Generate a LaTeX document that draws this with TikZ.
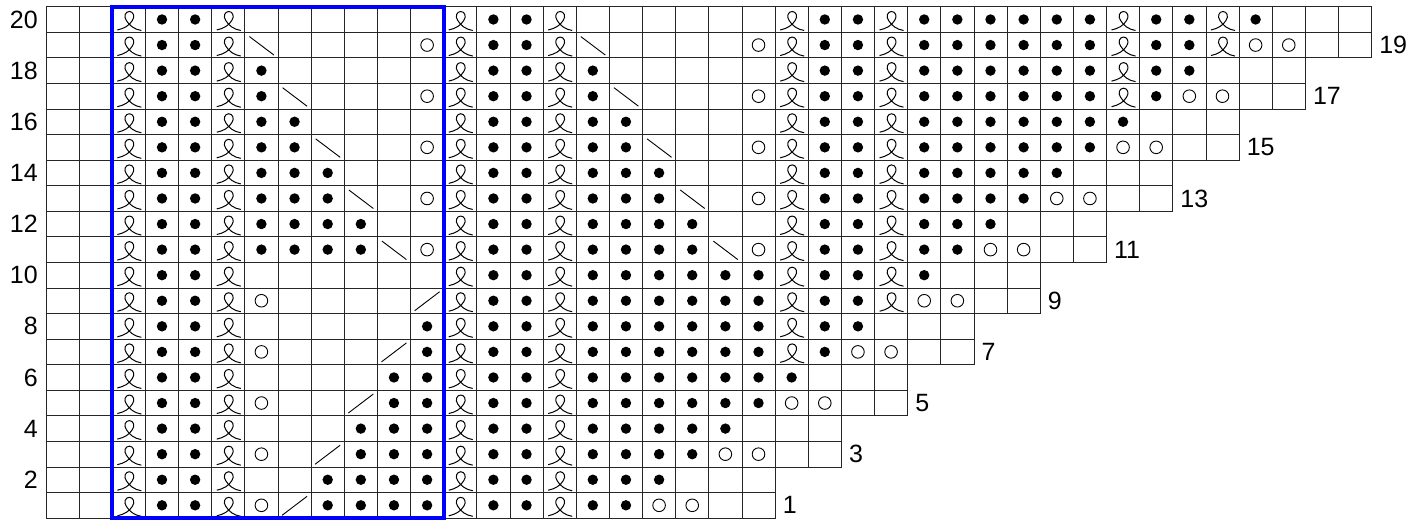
\documentclass[tikz,border=0pt]{standalone}
\usepackage{fontspec}
\setmainfont{Liberation Sans}
\tikzset{
  gridcell/.style={draw=black!85, line width=0.8pt},
  sym/.style={line width=0.9pt},
  lbl/.style={font=\fontsize{25}{28}\selectfont, inner sep=0pt},
  bluebox/.style={draw={rgb,255:red,0;green,0;blue,255}, line width=4.3pt},
  pics/ste/.style={code={}},
  pics/std/.style={code={\fill (0,0) circle (5.2pt);}},
  pics/sto/.style={code={\draw[sym] (0,0) circle (6.3pt);}},
  pics/stb/.style={code={\draw[sym] (-12pt,8.5pt) -- (12.5pt,-10pt);}},
  pics/sts/.style={code={\draw[sym] (-12.5pt,-10pt) -- (12.5pt,9pt);}},
  pics/stL/.style={code={\draw[line width=1pt] (-11.5pt,-10.5pt) .. controls (-4.5pt,-9pt) and (0.5pt,-6pt) .. (3.5pt,-1pt) .. controls (6.5pt,3pt) and (4.5pt,8pt) .. (0.5pt,8pt) .. controls (-3.5pt,8pt) and (-5.5pt,3pt) .. (-2.5pt,-1pt) .. controls (0.5pt,-6pt) and (5.5pt,-10pt) .. (12.5pt,-11pt);}},
}
\begin{document}
\begin{tikzpicture}[x=33.14pt, y=25.57pt]
\useasboundingbox ([xshift=-46pt,yshift=-1.9pt]0,0) rectangle ++(1424pt,520pt);
\foreach \r/\lst in {
 20/{e,e,L,d,d,L,e,e,e,e,e,e,L,d,d,L,e,e,e,e,e,e,L,d,d,L,d,d,d,d,d,d,L,d,d,L,d,e,e,e},
 19/{e,e,L,d,d,L,b,e,e,e,e,o,L,d,d,L,b,e,e,e,e,o,L,d,d,L,d,d,d,d,d,d,L,d,d,L,o,o,e,e},
 18/{e,e,L,d,d,L,d,e,e,e,e,e,L,d,d,L,d,e,e,e,e,e,L,d,d,L,d,d,d,d,d,d,L,d,d,e,e,e},
 17/{e,e,L,d,d,L,d,b,e,e,e,o,L,d,d,L,d,b,e,e,e,o,L,d,d,L,d,d,d,d,d,d,L,d,o,o,e,e},
 16/{e,e,L,d,d,L,d,d,e,e,e,e,L,d,d,L,d,d,e,e,e,e,L,d,d,L,d,d,d,d,d,d,d,e,e,e},
 15/{e,e,L,d,d,L,d,d,b,e,e,o,L,d,d,L,d,d,b,e,e,o,L,d,d,L,d,d,d,d,d,d,o,o,e,e},
 14/{e,e,L,d,d,L,d,d,d,e,e,e,L,d,d,L,d,d,d,e,e,e,L,d,d,L,d,d,d,d,d,e,e,e},
 13/{e,e,L,d,d,L,d,d,d,b,e,o,L,d,d,L,d,d,d,b,e,o,L,d,d,L,d,d,d,d,o,o,e,e},
 12/{e,e,L,d,d,L,d,d,d,d,e,e,L,d,d,L,d,d,d,d,e,e,L,d,d,L,d,d,d,e,e,e},
 11/{e,e,L,d,d,L,d,d,d,d,b,o,L,d,d,L,d,d,d,d,b,o,L,d,d,L,d,d,o,o,e,e},
 10/{e,e,L,d,d,L,e,e,e,e,e,e,L,d,d,L,d,d,d,d,d,d,L,d,d,L,d,e,e,e},
 9/{e,e,L,d,d,L,o,e,e,e,e,s,L,d,d,L,d,d,d,d,d,d,L,d,d,L,o,o,e,e},
 8/{e,e,L,d,d,L,e,e,e,e,e,d,L,d,d,L,d,d,d,d,d,d,L,d,d,e,e,e},
 7/{e,e,L,d,d,L,o,e,e,e,s,d,L,d,d,L,d,d,d,d,d,d,L,d,o,o,e,e},
 6/{e,e,L,d,d,L,e,e,e,e,d,d,L,d,d,L,d,d,d,d,d,d,d,e,e,e},
 5/{e,e,L,d,d,L,o,e,e,s,d,d,L,d,d,L,d,d,d,d,d,d,o,o,e,e},
 4/{e,e,L,d,d,L,e,e,e,d,d,d,L,d,d,L,d,d,d,d,d,e,e,e},
 3/{e,e,L,d,d,L,o,e,s,d,d,d,L,d,d,L,d,d,d,d,o,o,e,e},
 2/{e,e,L,d,d,L,e,e,d,d,d,d,L,d,d,L,d,d,d,e,e,e},
 1/{e,e,L,d,d,L,o,s,d,d,d,d,L,d,d,L,d,d,o,o,e,e}}{
  \foreach \s [count=\c] in \lst {
    \draw[gridcell] (\c-1,\r-1) rectangle (\c,\r);
    \edef\tmp{\noexpand\pic at (\c-0.5,\r-0.5) {st\s};}\tmp
  }
}
\draw[bluebox] (2,0) rectangle (12,20);
\foreach \r in {2,4,...,20}
  \node[lbl, anchor=east] (le\r) at ([xshift=-8pt]0,\r-0.5) {\r};
\foreach \r in {1,3,...,19}{
  \pgfmathtruncatemacro\n{21+\r}
  \node[lbl, anchor=west] (lo\r) at ([xshift=7.5pt]\n,\r-0.5) {\r};
}
\end{tikzpicture}
\end{document}
